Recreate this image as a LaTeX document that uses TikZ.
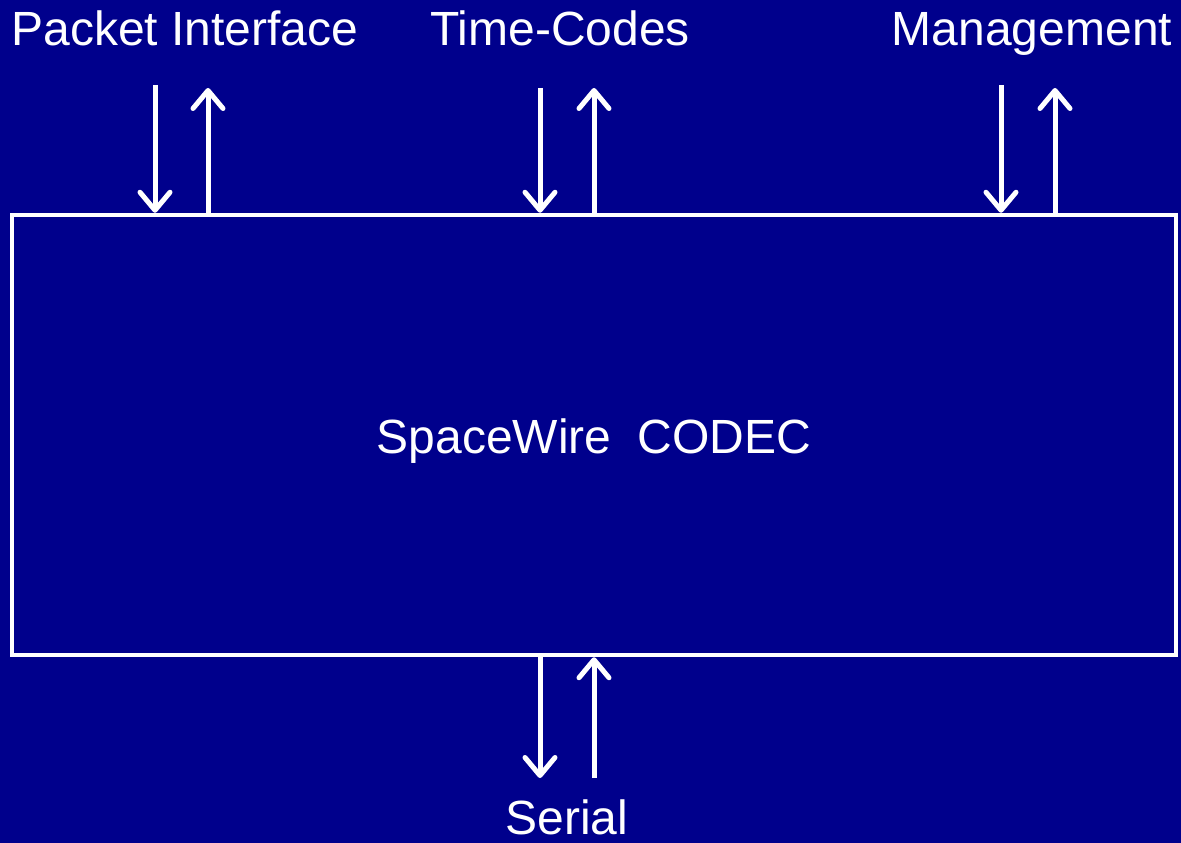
\documentclass[tikz,border=0pt]{standalone}
\usepackage{fontspec}
\setmainfont{Liberation Sans}
\usetikzlibrary{arrows.meta}
\definecolor{navy}{RGB}{0,0,140}

\begin{document}
\begin{tikzpicture}[
  x=1pt, y=-1pt,
  font=\fontsize{48}{54}\selectfont, text=white,
  block/.style={draw=white, line width=4.5pt, minimum width=1164pt, minimum height=440pt,
                inner sep=0pt},
  lab/.style={inner sep=0pt, anchor=base},
  sig/.style={white, line width=5pt,
              -{Straight Barb[length=18pt, width=30pt, line cap=round, line join=round]}}]
  \fill[navy] (0,0) rectangle (1181,843);
  \useasboundingbox (0,0) rectangle (1181,843);
  \node[block] (codec) at (594,435) {};
  \node[lab] (name) at (594,453) {SpaceWire\ \ CODEC};
  \node[lab] (pkt) at (185,46) {Packet Interface};
  \node[lab] (tc) at (560,46) {Time-Codes};
  \node[lab] (mgmt) at (1032,46) {Management};
  \node[lab] (ser) at (567,834) {Serial};
  \coordinate (pkt in) at (155,85);
  \coordinate (pkt out) at (208,88);
  \coordinate (tc in) at (540,88);
  \coordinate (tc out) at (594,88);
  \coordinate (mgmt in) at (1001,85);
  \coordinate (mgmt out) at (1055,88);
  \coordinate (ser out) at (540,778);
  \coordinate (ser in) at (594,778);
  \draw[sig] (pkt in) -- (pkt in |- codec.north);
  \draw[sig] (pkt out |- codec.north) -- (pkt out);
  \draw[sig] (tc in) -- (tc in |- codec.north);
  \draw[sig] (tc out |- codec.north) -- (tc out);
  \draw[sig] (mgmt in) -- (mgmt in |- codec.north);
  \draw[sig] (mgmt out |- codec.north) -- (mgmt out);
  \draw[sig] (ser out |- codec.south) -- (ser out);
  \draw[sig] (ser in) -- (ser in |- codec.south);
\end{tikzpicture}
\end{document}
